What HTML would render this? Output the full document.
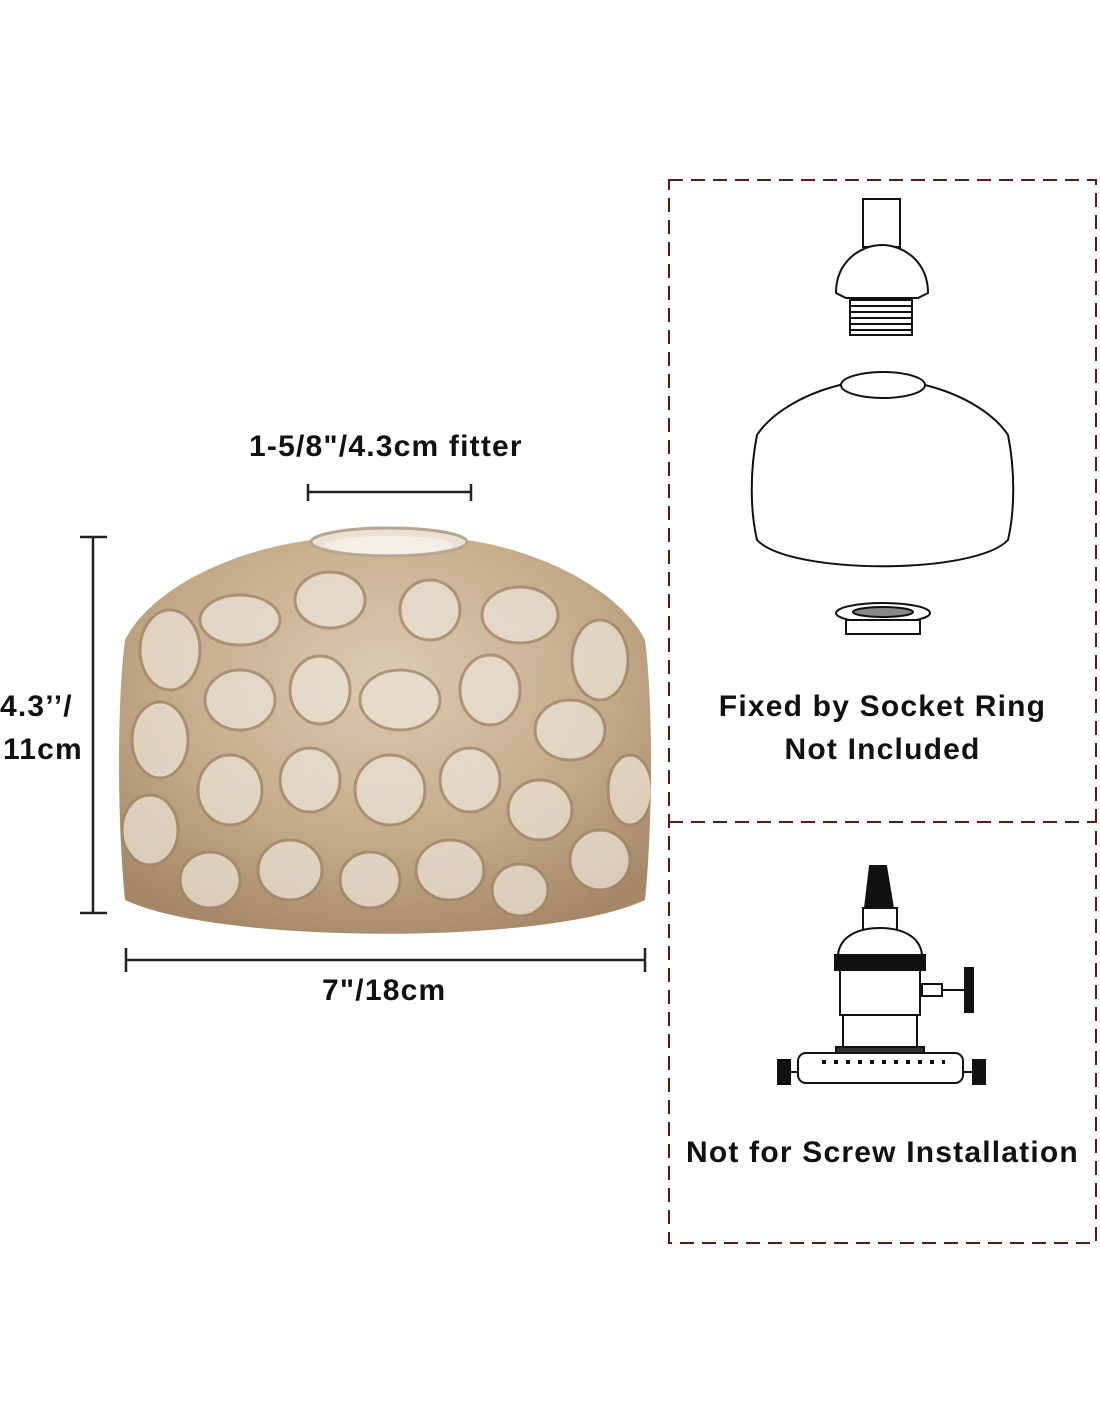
<!DOCTYPE html>
<html><head><meta charset="utf-8"><style>
html,body{margin:0;padding:0;background:#fff;}
body{width:1100px;height:1422px;position:relative;overflow:hidden;font-family:"Liberation Sans",sans-serif;}
.t{position:absolute;font-weight:bold;font-size:30px;letter-spacing:1.2px;color:#111;white-space:nowrap;}
</style></head><body>
<svg width="1100" height="1422" style="position:absolute;left:0;top:0">
<defs>
<radialGradient id="g" cx="0.5" cy="0.35" r="0.7">
<stop offset="0" stop-color="#dccbb4"/><stop offset="0.6" stop-color="#c4aa8a"/><stop offset="1" stop-color="#a48868"/>
</radialGradient>
<clipPath id="c"><path d="M312,540 C230,550 150,590 125,640 C117,700 117,820 125,900 C220,945 550,945 645,900 C653,820 653,700 645,640 C620,590 540,550 466,540 Z"/></clipPath>
</defs>
<path d="M312,540 C230,550 150,590 125,640 C117,700 117,820 125,900 C220,945 550,945 645,900 C653,820 653,700 645,640 C620,590 540,550 466,540 Z" fill="url(#g)"/>
<g clip-path="url(#c)" fill="#ece2d4" stroke="#a0866a" stroke-width="3" opacity="0.75">
<ellipse cx="170" cy="650" rx="30" ry="40"/><ellipse cx="240" cy="620" rx="40" ry="25"/>
<ellipse cx="330" cy="600" rx="35" ry="28"/><ellipse cx="430" cy="610" rx="30" ry="30"/>
<ellipse cx="520" cy="615" rx="38" ry="28"/><ellipse cx="600" cy="660" rx="28" ry="40"/>
<ellipse cx="160" cy="740" rx="28" ry="38"/><ellipse cx="240" cy="700" rx="35" ry="30"/>
<ellipse cx="320" cy="690" rx="30" ry="34"/><ellipse cx="400" cy="700" rx="40" ry="30"/>
<ellipse cx="490" cy="690" rx="30" ry="35"/><ellipse cx="570" cy="730" rx="35" ry="30"/>
<ellipse cx="630" cy="790" rx="22" ry="35"/><ellipse cx="150" cy="830" rx="28" ry="35"/>
<ellipse cx="230" cy="790" rx="32" ry="35"/><ellipse cx="310" cy="780" rx="30" ry="32"/>
<ellipse cx="390" cy="790" rx="35" ry="35"/><ellipse cx="470" cy="780" rx="30" ry="32"/>
<ellipse cx="540" cy="810" rx="32" ry="30"/><ellipse cx="600" cy="860" rx="30" ry="30"/>
<ellipse cx="210" cy="880" rx="30" ry="28"/><ellipse cx="290" cy="870" rx="32" ry="30"/>
<ellipse cx="370" cy="880" rx="30" ry="28"/><ellipse cx="450" cy="870" rx="34" ry="30"/>
<ellipse cx="520" cy="890" rx="28" ry="26"/>
</g>
<ellipse cx="389" cy="542" rx="78" ry="14" fill="#e9e1d6" stroke="#b8a58e" stroke-width="3"/>
<ellipse cx="389" cy="545" rx="64" ry="9" fill="#f3eee8"/>
<g stroke="#222" stroke-width="2.5">
<line x1="308" y1="492" x2="471" y2="492"/><line x1="308" y1="484" x2="308" y2="501"/><line x1="471" y1="484" x2="471" y2="501"/>
<line x1="93" y1="537" x2="93" y2="913"/><line x1="80" y1="537" x2="107" y2="537"/><line x1="80" y1="913" x2="107" y2="913"/>
<line x1="126" y1="960" x2="645" y2="960"/><line x1="126" y1="948" x2="126" y2="972"/><line x1="645" y1="948" x2="645" y2="972"/>
</g>
<g stroke="#5a1a1a" stroke-width="2" stroke-dasharray="14,8" fill="none">
<rect x="669" y="180" width="427" height="1063"/>
<line x1="669" y1="822" x2="1096" y2="822"/>
</g>
<g stroke="#111" stroke-width="2" fill="#fff">
<rect x="863" y="199" width="37" height="48"/>
<path d="M836,293 C836,262 860,245 882,245 C904,245 928,262 928,293 L918,298 L846,298 Z"/>
<rect x="850" y="300" width="62" height="35"/>
<line x1="850" y1="306" x2="912" y2="306"/><line x1="850" y1="312" x2="912" y2="312"/><line x1="850" y1="318" x2="912" y2="318"/><line x1="850" y1="324" x2="912" y2="324"/><line x1="850" y1="330" x2="912" y2="330"/>
<path d="M840,385 C800,395 770,415 757,435 C750,470 750,510 757,540 C790,575 975,575 1008,540 C1015,510 1015,470 1008,435 C995,415 965,395 925,385 C900,372 860,372 840,385 Z"/>
<ellipse cx="883" cy="385" rx="42" ry="13"/>
<ellipse cx="883" cy="613" rx="47" ry="10"/>
<ellipse cx="883" cy="612" rx="30" ry="5" fill="#888"/>
<rect x="846" y="620" width="74" height="14" fill="#fff"/>
</g>
<g stroke="#111" stroke-width="2" fill="#fff">
<path d="M870,866 L886,866 L893,908 L865,908 Z" fill="#111"/>
<rect x="863" y="908" width="34" height="22"/>
<path d="M838,955 C840,935 860,928 880,928 C900,928 920,935 922,955 Z"/>
<rect x="835" y="955" width="90" height="15" fill="#111"/>
<rect x="840" y="970" width="80" height="45"/>
<rect x="843" y="1015" width="74" height="35"/>
<rect x="922" y="984" width="20" height="12"/>
<rect x="965" y="968" width="8" height="44" fill="#111"/>
<line x1="942" y1="990" x2="965" y2="990"/>
<rect x="836" y="1047" width="88" height="8" fill="#333"/>
<rect x="798" y="1053" width="165" height="30" rx="8"/>
<rect x="778" y="1060" width="12" height="24" fill="#111"/>
<rect x="973" y="1060" width="12" height="24" fill="#111"/>
<line x1="790" y1="1072" x2="798" y2="1072"/><line x1="963" y1="1072" x2="973" y2="1072"/>
<line x1="822" y1="1062" x2="945" y2="1062" stroke-dasharray="4,8" stroke-width="4"/>
</g>
</svg>
<div class="t" style="left:249px;top:430px;">1-5/8"/4.3cm fitter</div>
<div class="t" style="left:0px;top:690px;">4.3’’/</div>
<div class="t" style="left:3px;top:733px;">11cm</div>
<div class="t" style="left:322px;top:974px;">7"/18cm</div>
<div class="t" style="left:669px;width:427px;text-align:center;top:690px;">Fixed by Socket Ring</div>
<div class="t" style="left:669px;width:427px;text-align:center;top:733px;">Not Included</div>
<div class="t" style="left:669px;width:427px;text-align:center;top:1136px;">Not for Screw Installation</div>
</body></html>
